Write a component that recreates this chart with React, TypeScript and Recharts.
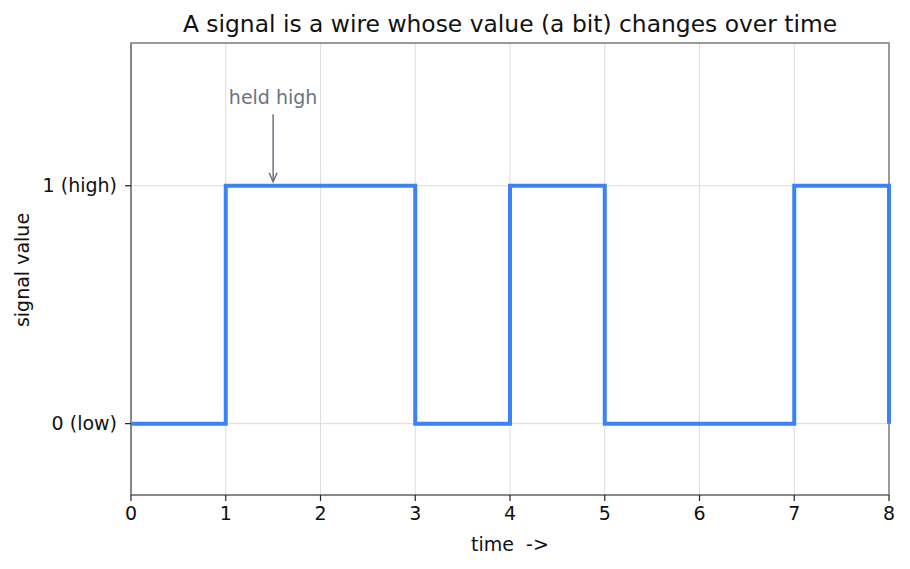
import { LineChart, Line, XAxis, YAxis, CartesianGrid, ReferenceArea, ReferenceLine, ReferenceDot } from "recharts";

const times = [0, 1, 2, 3, 4, 5, 6, 7, 8];
const levels = [0, 1, 1, 0, 1, 0, 0, 1, 0];
const xTicks = [0, 1, 2, 3, 4, 5, 6, 7, 8];
const yTicks = [0, 1];
const yTickLabels = ["0 (low)", "1 (high)"];

const data = times.map((t, i) => ({ t, v: levels[i] }));

const FONT = "'DejaVu Sans', sans-serif";
const SPINE = "#808080";
const NOTE = "#6b7280";

// arrow for the "held high" note
const Arrow = (props: any) => {
  let x1 = props.x1, y1 = props.y1, x2 = props.x2, y2 = props.y2;
  if (props.segment && props.segment.length === 2) {
    x1 = props.segment[0].x;
    y1 = props.segment[0].y;
    x2 = props.segment[1].x;
    y2 = props.segment[1].y;
  }
  if (x1 == null || y1 == null || y2 == null) return null;
  return (
    <g>
      <line x1={x1} y1={y1} x2={x2 ?? x1} y2={y2} stroke={NOTE} strokeWidth={1.5} />
      <path d={`M${x1 - 4},${y2 - 9} L${x1},${y2} L${x1 + 4},${y2 - 9}`} fill="none" stroke={NOTE} strokeWidth={1.5} />
    </g>
  );
};

const SignalChart = () => {
  return (
    <div style={{ position: "absolute", left: 0, top: 0, width: 910, height: 569, background: "#fff", fontFamily: FONT }}>
      <div style={{ position: "absolute", left: 131, width: 758, top: 10, textAlign: "center", fontSize: 23.4, lineHeight: "28px", color: "#111", whiteSpace: "nowrap" }}>
        A signal is a wire whose value (a bit) changes over time
      </div>
      <div
        style={{
          position: "absolute",
          left: 22,
          top: 270,
          transform: "translate(-50%, -50%) rotate(-90deg)",
          fontSize: 19,
          color: "#111",
          whiteSpace: "nowrap",
        }}
      >
        signal value
      </div>
      <div style={{ position: "absolute", left: 131, width: 758, top: 532, textAlign: "center", fontSize: 19, lineHeight: "24px", color: "#111", whiteSpace: "pre" }}>
        {"time  ->"}
      </div>
      <LineChart width={910} height={569} data={data} margin={{ top: 43, right: 21, bottom: 44, left: 41 }}>
        <CartesianGrid stroke="#d4d4d4" strokeWidth={0.8} />
        <XAxis
          dataKey="t"
          type="number"
          domain={[0, 8]}
          ticks={xTicks}
          height={30}
          axisLine={{ stroke: SPINE, strokeWidth: 1.5 }}
          tickLine={{ stroke: "#222", strokeWidth: 1.2 }}
          tickSize={6}
          tickMargin={6}
          tick={{ fill: "#111", fontSize: 19, fontFamily: FONT }}
        />
        <YAxis
          type="number"
          domain={[-0.3, 1.6]}
          ticks={yTicks}
          width={90}
          axisLine={{ stroke: SPINE, strokeWidth: 1.5 }}
          tickLine={{ stroke: "#222", strokeWidth: 1.2 }}
          tickSize={6}
          tickMargin={8}
          tickFormatter={(v: number) => yTickLabels[yTicks.indexOf(v)] ?? String(v)}
          tick={{ fill: "#111", fontSize: 19, fontFamily: FONT }}
        />
        <ReferenceArea x1={0} x2={8} y1={-0.3} y2={1.6} fill="none" stroke={SPINE} strokeWidth={1.5} />
        <Line
          dataKey="v"
          type="stepAfter"
          stroke="#3b82f6"
          strokeWidth={4}
          dot={false}
          activeDot={false}
          isAnimationActive={false}
        />
        <ReferenceLine
          segment={[
            { x: 1.5, y: 1.3 },
            { x: 1.5, y: 1.017 },
          ]}
          stroke={NOTE}
          shape={Arrow}
        />
        <ReferenceDot
          x={1.5}
          y={1.37}
          r={0}
          fill="none"
          stroke="none"
          label={{ value: "held high", position: "center", fill: NOTE, fontSize: 19, fontFamily: FONT }}
        />
      </LineChart>
    </div>
  );
};

export default function App() {
  return <SignalChart />;
}
